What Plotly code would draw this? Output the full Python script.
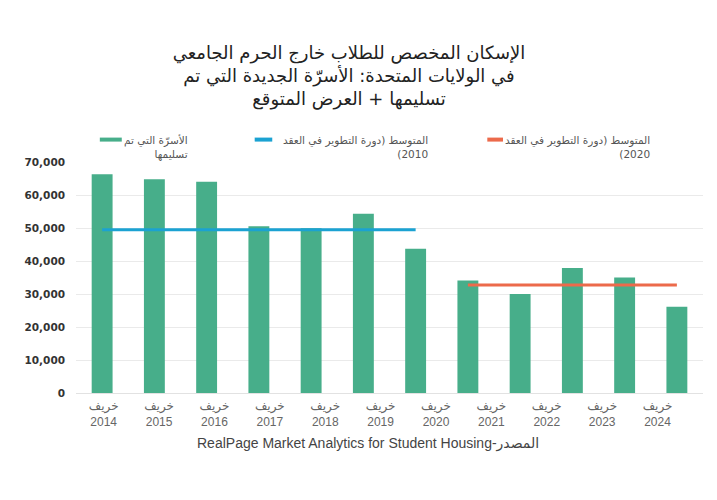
import plotly.graph_objects as go

# البيانات
bar_x = list(range(12))
delivered = [66300, 64800, 64000, 50500, 49900, 54300, 43700, 34100, 30000, 37900, 35000, 26100]

avg_2010_x = [0, 6]
avg_2010_y = [49500, 49500]
avg_2020_x = [7, 11]
avg_2020_y = [32700, 32700]

years = ["2014", "2015", "2016", "2017", "2018", "2019", "2020", "2021", "2022", "2023", "2024"]
tick_labels = [f"خريف<br>{y}" for y in years]
y_ticks = [0, 10000, 20000, 30000, 40000, 50000, 60000, 70000]

GREEN = "#47AE8A"
BLUE = "#1BA2D2"
ORANGE = "#EC6A4B"
AR_FONT = "DejaVu Sans"

fig = go.Figure()

fig.add_trace(go.Bar(
    x=bar_x, y=delivered,
    width=0.4,
    marker=dict(color=GREEN, line=dict(width=0)),
    name="الأسرّة التي تم تسليمها",
    showlegend=False,
))

fig.add_trace(go.Scatter(
    x=avg_2010_x, y=avg_2010_y,
    mode="lines", line=dict(color=BLUE, width=3),
    showlegend=False,
))

fig.add_trace(go.Scatter(
    x=avg_2020_x, y=avg_2020_y,
    mode="lines", line=dict(color=ORANGE, width=3),
    showlegend=False,
))

# وسيلة الإيضاح (يدوية لمحاذاة النص لليمين)
legend_items = [
    (GREEN, 0.038, 0.073, 0.182, "الأسرّة التي تم<br>تسليمها"),
    (BLUE, 0.285, 0.313, 0.565, "المتوسط (دورة التطوير في العقد<br>(2010"),
    (ORANGE, 0.656, 0.681, 0.919, "المتوسط (دورة التطوير في العقد<br>(2020"),
]
for color, x0, x1, xt, label in legend_items:
    fig.add_shape(type="line", xref="paper", yref="paper",
                  x0=x0, x1=x1, y0=1.097, y1=1.097,
                  line=dict(color=color, width=4))
    fig.add_annotation(
        text=label, xref="paper", yref="paper",
        x=xt, y=1.128, xanchor="right", yanchor="top", align="right",
        showarrow=False,
        font=dict(family=AR_FONT, size=10.5, color="#555555"),
    )

fig.add_annotation(
    text="RealPage Market Analytics for Student Housing-المصدر",
    xref="paper", yref="paper", x=0.465, y=-0.218,
    xanchor="center", yanchor="middle", showarrow=False,
    font=dict(family="Liberation Sans, DejaVu Sans", size=14, color="#444444"),
)

fig.update_layout(
    title=dict(
        text="الإسكان المخصص للطلاب خارج الحرم الجامعي<br>في الولايات المتحدة: الأسرّة الجديدة التي تم<br>تسليمها + العرض المتوقع",
        x=0.481, xanchor="center", y=0.897, yanchor="top",
        font=dict(family=AR_FONT, size=18, color="#222222"),
    ),
    width=709, height=492,
    paper_bgcolor="#FFFFFF",
    plot_bgcolor="#FFFFFF",
    margin=dict(l=68, r=14, t=154, b=107),
    bargap=0.6,
)

fig.update_xaxes(
    range=[-0.5, 11.5],
    tickmode="array",
    tickvals=[i * 1.06 + 0.03 for i in range(len(years))],
    ticktext=tick_labels,
    tickfont=dict(family="Liberation Sans Narrow, Liberation Sans, DejaVu Sans", size=12, color="#666666"),
    showgrid=False, zeroline=False, showline=False,
    ticks="", ticklabelstandoff=4,
)

fig.update_yaxes(
    range=[0, 70000],
    tickmode="array", tickvals=y_ticks,
    tickformat=",",
    tickfont=dict(family="DejaVu Sans", size=10.5, color="#333333", weight="bold"),
    gridcolor="#EAEAEA", gridwidth=1,
    zeroline=True, zerolinecolor="#E2E2E2", zerolinewidth=1,
    showline=False, ticks="", ticklabelstandoff=10,
)

fig.write_html("out.html")
